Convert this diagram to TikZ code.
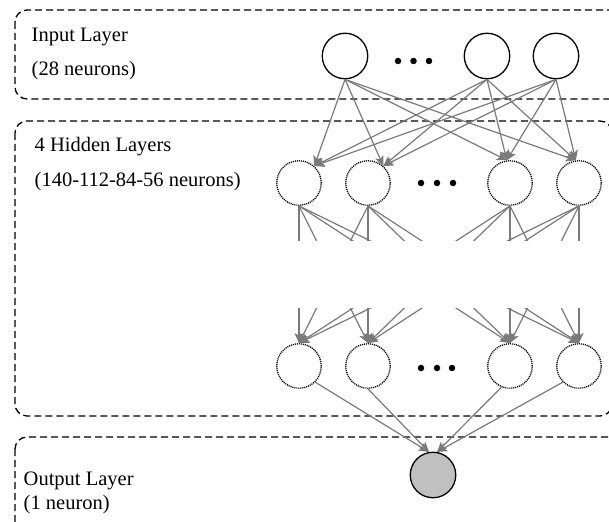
\documentclass[tikz,border=0pt]{standalone}
\usepackage{fontspec}
\setmainfont{Liberation Serif}
\usetikzlibrary{arrows.meta}
\definecolor{linegray}{HTML}{7A7A7A}
\definecolor{outgray}{HTML}{C0C0C0}
\begin{document}
\begin{tikzpicture}[x=1pt,y=-1pt,
  layerbox/.style={draw=black, line width=1.3pt, dash pattern=on 7pt off 4pt, rounded corners=12pt},
  lbl/.style={anchor=base west, inner sep=0pt, font=\fontsize{20.5}{24}\selectfont},
  inneuron/.style={circle, draw=black, line width=1.3pt, minimum size=45.5pt, inner sep=0pt},
  hidneuron/.style={circle, draw=black, line width=1.3pt, dash pattern=on 1.1pt off 0.9pt, minimum size=44.5pt, inner sep=0pt},
  outneuron/.style={circle, draw=black, line width=1.3pt, fill=outgray, minimum size=45.5pt, inner sep=0pt},
  dotmark/.style={circle, fill=black, minimum size=6.5pt, inner sep=0pt},
  conn/.style={draw=linegray, line width=1.2pt, -{Stealth[length=10pt,width=9pt,inset=2.5pt]}}
]
\useasboundingbox (0,0) rectangle (609,521);
\clip (0,0) rectangle (609,521);
\fill[white] (0,0) rectangle (609,521);

% layer boxes
\draw[layerbox] (15,10) rectangle (630,99);
\draw[layerbox] (15,121) rectangle (612,416);
\draw[layerbox] (15,437) rectangle (630,545);

% labels
\node[lbl] (tin1) at (31.5,42) {Input Layer};
\node[lbl] (tin2) at (31.5,76) {(28 neurons)};
\node[lbl] (thid1) at (34.5,152) {4 Hidden Layers};
\node[lbl] (thid2) at (34.5,186) {(140-112-84-56 neurons)};
\node[lbl] (tout1) at (23.5,485) {Output Layer};
\node[lbl] (tout2) at (23.5,509) {(1 neuron)};

% input neurons
\node[inneuron] (i1) at (345,56) {};
\node[inneuron] (i2) at (487,56) {};
\node[inneuron] (i3) at (556,56) {};
\node[dotmark] (id1) at (398,61) {};
\node[dotmark] (id2) at (413.5,61) {};
\node[dotmark] (id3) at (429,61) {};

% first hidden layer
\node[hidneuron] (h1) at (299,183) {};
\node[hidneuron] (h2) at (368,183) {};
\node[hidneuron] (h3) at (510,183) {};
\node[hidneuron] (h4) at (579,183) {};
\node[dotmark] (hd1) at (421,183) {};
\node[dotmark] (hd2) at (437,183) {};
\node[dotmark] (hd3) at (453,183) {};

% last hidden layer
\node[hidneuron] (b1) at (299,366) {};
\node[hidneuron] (b2) at (368,366) {};
\node[hidneuron] (b3) at (510,366) {};
\node[hidneuron] (b4) at (579,366) {};
\node[dotmark] (bd1) at (421,368) {};
\node[dotmark] (bd2) at (437,368) {};
\node[dotmark] (bd3) at (452,368) {};

% output neuron
\node[outneuron] (out) at (433,475) {};

% input -> first hidden
\foreach \s in {i1,i2,i3} {
  \draw[conn] (\s.south) -- (h1.48);
  \draw[conn] (\s.south) -- (h2.48);
  \draw[conn] (\s.south) -- (h3.98);
  \draw[conn] (\s.south) -- (h4.98);
}

% first hidden -> last hidden (middle layers omitted)
\begin{scope}
  \clip (250,190) rectangle (609,240);
  \foreach \s in {h1,h2,h3,h4} {
    \foreach \t in {b1,b2,b3,b4} {
      \draw[conn] (\s.south) -- (\t.north);
    }
  }
\end{scope}
\begin{scope}
  \clip (250,308) rectangle (609,352);
  \foreach \s in {h1,h2,h3,h4} {
    \foreach \t in {b1,b2,b3,b4} {
      \draw[conn] (\s.south) -- (\t.north);
    }
  }
\end{scope}

% last hidden -> output
\draw[conn] (b1.-45) -- (out.100);
\draw[conn] (b2.south) -- (out.100);
\draw[conn] (b3.-112) -- (out.80);
\draw[conn] (b4.-135) -- (out.80);
\end{tikzpicture}
\end{document}
